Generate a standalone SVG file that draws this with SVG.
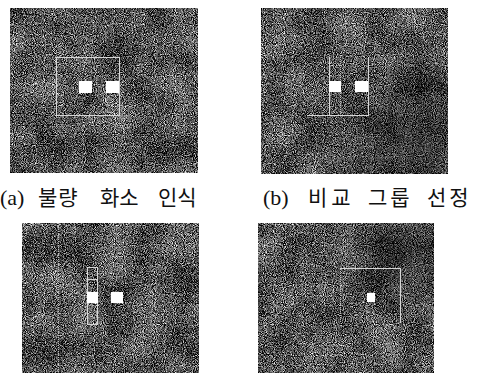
<svg xmlns="http://www.w3.org/2000/svg" width="478" height="378" viewBox="0 0 478 378">
<style>
.ln{stroke:#d6d6d6;stroke-width:1;fill:none}
.dt{stroke:#bdbdbd;stroke-width:1;fill:none;stroke-dasharray:1 1}
.px{fill:#ffffff}
.cap{font-family:"Liberation Serif","Noto Sans CJK KR",serif;font-size:21px;fill:#111}
.lat{font-size:22px}
</style>
<defs>
<filter id="grain" x="0" y="0" width="100%" height="100%" color-interpolation-filters="sRGB">
<feTurbulence type="fractalNoise" baseFrequency="1.1" numOctaves="1" seed="4" result="t1"/>
<feColorMatrix in="t1" type="matrix" values="1 0 0 0 0 1 0 0 0 0 1 0 0 0 0 0 0 0 0 1" result="g1"/>
<feTurbulence type="fractalNoise" baseFrequency="0.03" numOctaves="2" seed="9" result="t2"/>
<feColorMatrix in="t2" type="matrix" values="1 0 0 0 0 1 0 0 0 0 1 0 0 0 0 0 0 0 0 1" result="g2"/>
<feComposite in="g1" in2="g2" operator="arithmetic" k1="0" k2="2.2" k3="0.45" k4="-1.0"/>
</filter>
<radialGradient id="dk" cx="0.85" cy="0.8" r="0.6">
<stop offset="0" stop-color="#000" stop-opacity="0.4"/>
<stop offset="1" stop-color="#000" stop-opacity="0"/>
</radialGradient>
<radialGradient id="dk2" cx="0.85" cy="0.2" r="0.5">
<stop offset="0" stop-color="#000" stop-opacity="0.4"/>
<stop offset="1" stop-color="#000" stop-opacity="0"/>
</radialGradient>
</defs>

<g id="panel-a">
<rect x="10" y="8" width="188" height="165" fill="#444" filter="url(#grain)"/>
<rect x="56.5" y="57.5" width="63" height="58" class="ln"/>
<rect class="px" x="79" y="81" width="13" height="12"/>
<rect class="px" x="106" y="81" width="13" height="12"/>
</g>

<g id="panel-b">
<rect x="261" y="8" width="187" height="166" fill="#444" filter="url(#grain)"/>
<rect x="261" y="8" width="187" height="166" fill="url(#dk)"/>
<line class="ln" x1="329.5" y1="57" x2="329.5" y2="116"/>
<line class="ln" x1="368.5" y1="57" x2="368.5" y2="116"/>
<line class="dt" x1="340.5" y1="57" x2="340.5" y2="115"/>
<line class="ln" x1="307" y1="115.5" x2="369" y2="115.5"/>
<rect class="px" x="329" y="81" width="12" height="11"/>
<rect class="px" x="355" y="81" width="13" height="11"/>
</g>

<g id="panel-c">
<rect x="22" y="223" width="177" height="150" fill="#444" filter="url(#grain)"/>
<line class="dt" x1="58.5" y1="223" x2="58.5" y2="373"/>
<rect x="87.5" y="267.5" width="10" height="57" class="ln"/>
<line class="ln" x1="88" y1="279.5" x2="97" y2="279.5"/>
<rect class="px" x="87" y="292" width="11" height="11"/>
<rect class="px" x="111" y="292" width="12" height="11"/>
</g>

<g id="panel-d">
<rect x="258" y="223" width="176" height="150" fill="#444" filter="url(#grain)"/>
<rect x="258" y="223" width="176" height="150" fill="url(#dk2)"/>
<line class="ln" x1="340" y1="268.5" x2="401" y2="268.5"/>
<line class="ln" x1="400.5" y1="268" x2="400.5" y2="323"/>
<line class="dt" x1="340.5" y1="269" x2="340.5" y2="323"/>
<rect class="px" x="367" y="293" width="8" height="9"/>
</g>

<g id="captions">
<text class="cap" y="205"><tspan class="lat" x="0">(a)</tspan><tspan x="38" letter-spacing="1">불량</tspan><tspan x="100">화소</tspan><tspan x="158">인식</tspan></text>
<text class="cap" y="205"><tspan class="lat" x="263">(b)</tspan><tspan x="308" letter-spacing="4">비교</tspan><tspan x="368" letter-spacing="3">그룹</tspan><tspan x="427" letter-spacing="3">선정</tspan></text>
</g>
</svg>
